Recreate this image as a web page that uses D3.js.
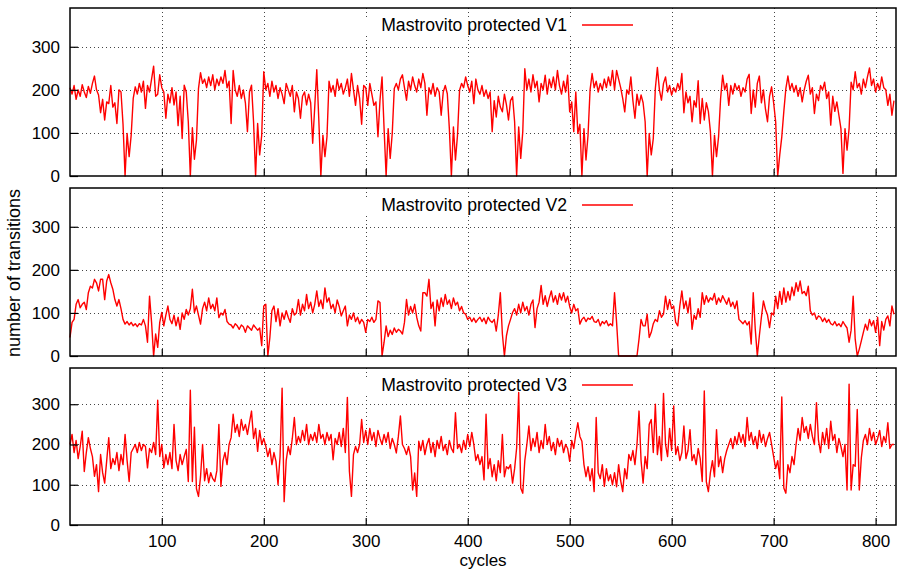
<!DOCTYPE html>
<html>
<head>
<meta charset="utf-8">
<script src="https://cdn.jsdelivr.net/npm/d3@7"></script>
<style>
  body { margin: 0; background: #fff; }
  text { font-family: "Liberation Sans", Arial, Helvetica, sans-serif; fill: #000; }
</style>
</head>
<body>
<svg id="chart" width="897" height="572"></svg>
<script>
// one value every 2 cycles, starting at cycle 10
const cycleStart = 10;
const cycleStep = 2;

const seriesNames = ["Mastrovito protected V1", "Mastrovito protected V2", "Mastrovito protected V3"];
const xTicks = [100, 200, 300, 400, 500, 600, 700, 800];
const yTicks = [0, 100, 200, 300];

const v1 = [
  205,190,210,178,200,185,212,195,182,208,192,215,232,200,188,147,178,130,172,168,210,160,170,122,200,
  195,120,0,99,45,95,180,207,190,215,195,220,157,210,195,225,255,185,190,235,205,195,134,190,170,
  205,165,195,117,185,87,211,195,126,0,112,39,83,203,240,215,225,205,230,210,235,200,225,210,230,
  215,245,205,220,122,245,200,185,210,180,200,170,103,195,211,126,0,122,49,95,242,200,215,185,220,
  195,210,180,205,190,168,215,200,185,210,149,195,180,134,185,195,165,190,170,76,160,247,130,0,95,
  45,91,220,195,210,185,225,200,215,190,205,225,185,238,200,164,210,180,120,210,205,164,215,190,164,
  172,91,176,230,110,0,110,41,99,203,215,200,225,235,205,176,220,200,230,210,195,225,205,238,215,
  141,205,190,215,185,205,195,141,195,210,191,110,0,114,37,95,199,215,205,230,210,195,220,168,225,
  200,190,210,185,200,180,195,103,175,137,185,160,149,190,165,130,175,184,126,0,114,41,103,249,200,
  225,195,235,205,220,172,215,200,234,190,225,205,230,200,245,210,190,220,195,234,149,172,103,195,99,
  120,0,110,37,95,200,238,205,220,195,215,200,225,205,230,210,245,200,245,225,205,180,149,200,190,
  230,175,134,190,164,188,170,126,0,99,49,87,203,252,200,176,215,230,195,210,188,205,195,215,200,
  238,147,195,170,185,126,175,160,221,122,180,130,170,150,103,0,95,45,91,180,234,200,215,164,210,
  190,215,200,210,185,205,195,225,236,145,200,160,215,232,170,200,155,126,185,207,170,126,0,49,91,
  150,203,232,200,215,195,210,185,205,172,200,220,234,190,205,145,190,175,210,200,218,180,195,118,185,
  150,172,141,110,6,110,60,110,218,200,242,205,215,190,225,205,230,251,210,225,195,215,200,230,205,
  200,164,190,141,175
];

const v2 = [
  43,78,85,120,131,112,120,125,108,147,162,158,178,170,151,178,178,131,174,189,170,155,131,116,131,
  110,85,74,80,72,78,70,75,68,75,72,85,70,32,139,78,0,51,20,78,101,70,95,116,85,
  75,95,70,90,62,100,85,108,95,110,155,101,116,95,74,110,125,105,135,110,120,105,135,89,100,
  95,108,80,74,72,65,75,70,62,72,68,55,70,65,60,72,66,60,65,24,116,120,0,43,105,
  116,80,110,70,100,85,105,90,78,110,95,100,131,95,120,105,143,110,125,100,120,151,115,130,110,
  158,125,135,110,120,100,130,115,93,105,116,70,95,85,100,80,90,75,85,78,55,85,80,90,78,
  85,128,124,0,32,70,45,60,50,65,55,62,58,51,78,131,95,115,100,120,90,70,58,147,147,
  139,178,110,125,70,130,105,135,115,143,120,130,110,135,118,125,105,115,100,97,85,90,80,88,78,
  85,90,80,88,75,90,82,78,85,58,95,147,51,0,47,70,85,101,110,95,120,100,125,105,115,
  95,120,130,66,110,125,164,120,140,115,135,151,125,140,120,145,130,147,125,139,115,100,120,105,110,
  74,85,90,80,88,85,92,80,78,85,70,80,75,82,70,75,70,147,78,0,0,0,0,0,0,
  0,0,0,0,39,85,70,70,97,43,55,75,85,80,105,90,97,139,108,131,110,116,78,70,116,
  151,110,128,100,135,62,95,85,110,90,147,120,140,125,135,130,145,120,135,125,140,130,120,135,115,
  125,110,128,85,80,75,82,72,80,28,147,62,0,47,90,128,108,95,66,100,95,139,110,150,120,
  158,125,150,130,160,140,170,150,174,145,150,140,162,105,95,100,85,93,90,80,88,78,85,75,72,
  80,70,75,68,80,72,65,32,60,139,39,0,16,35,55,74,60,85,70,82,55,90,24,80,60,
  85,93,70,116,97
];

const v3 = [
  200,225,180,210,165,195,233,133,180,217,190,170,121,150,83,175,130,104,160,217,140,165,150,180,135,
  175,150,225,160,108,180,190,200,180,205,185,200,195,142,190,180,205,175,310,170,200,142,175,150,180,
  140,250,160,135,175,150,170,188,108,335,108,243,90,71,120,200,110,140,105,130,115,108,135,250,96,
  160,180,150,200,217,275,230,250,220,262,235,250,225,255,283,215,240,183,235,200,215,196,170,190,150,
  180,158,100,170,340,58,160,195,175,215,267,200,220,205,235,210,250,200,225,210,230,205,250,215,225,
  200,230,210,225,162,215,200,230,195,240,180,317,133,71,175,195,180,200,262,205,235,200,240,210,230,
  195,235,215,200,225,205,230,190,215,200,179,220,271,200,190,175,195,170,87,129,71,208,185,210,175,
  200,215,180,205,170,210,190,220,185,200,175,210,190,180,279,190,200,180,210,188,225,195,230,200,160,
  175,150,170,112,275,140,165,120,150,110,160,130,225,120,145,140,150,104,140,192,329,92,79,160,200,
  246,185,215,195,230,180,210,190,250,200,220,185,205,175,215,195,210,180,200,190,158,210,190,225,254,
  220,208,150,120,145,110,140,83,267,130,115,150,96,140,110,125,100,130,95,150,110,83,140,115,175,
  160,185,150,200,283,160,104,170,140,250,262,180,300,175,220,160,327,200,170,240,185,296,175,195,160,
  180,246,165,185,237,160,175,150,190,165,108,333,108,83,130,160,120,237,145,170,130,165,185,200,215,
  190,220,200,230,205,225,195,267,210,230,200,220,190,235,205,225,195,215,230,200,170,140,160,115,318,
  92,79,150,130,170,150,200,240,210,267,230,245,215,250,220,200,304,210,180,230,200,240,190,258,210,
  225,180,215,195,170,200,87,350,87,150,146,287,87,167,210,225,200,240,210,230,200,215,235,195,220,
  205,254,190,200,200
];

const series = [v1, v2, v3];

// layout
const plotLeft = 70, plotRight = 896;
const panels = [
  { top: 8, bottom: 176 },
  { top: 188, bottom: 356 },
  { top: 368, bottom: 525 }
];

const svg = d3.select("#chart");

const x = d3.scaleLinear().domain([10, 820]).range([plotLeft, plotRight]);

const line = (y) => d3.line()
  .x((d, i) => x(cycleStart + i * cycleStep))
  .y(d => y(d));

panels.forEach((p, idx) => {
  const y = d3.scaleLinear().domain([0, 390]).range([p.bottom, p.top]);
  const g = svg.append("g");

  // grid (dotted)
  g.selectAll(".hgrid")
    .data(yTicks.filter(t => t > 0))
    .enter().append("line")
    .attr("x1", plotLeft).attr("x2", plotRight)
    .attr("y1", d => Math.round(y(d)) + 0.5).attr("y2", d => Math.round(y(d)) + 0.5)
    .attr("stroke", "#444").attr("stroke-width", 1)
    .attr("stroke-dasharray", "1,3");

  g.selectAll(".vgrid")
    .data(xTicks)
    .enter().append("line")
    .attr("x1", d => Math.round(x(d)) + 0.5).attr("x2", d => Math.round(x(d)) + 0.5)
    .attr("y1", p.top).attr("y2", p.bottom)
    .attr("stroke", "#444").attr("stroke-width", 1)
    .attr("stroke-dasharray", "1,3");

  // opaque key box
  g.append("rect")
    .attr("x", 362).attr("y", p.top + 9)
    .attr("width", 278).attr("height", 18)
    .attr("fill", "#fff");

  g.append("text")
    .attr("x", 567).attr("y", p.top + 23)
    .attr("text-anchor", "end")
    .style("font-size", "17.6px")
    .text(seriesNames[idx]);

  g.append("line")
    .attr("x1", 582).attr("x2", 633)
    .attr("y1", p.top + 17).attr("y2", p.top + 17)
    .attr("stroke", "#ff0000").attr("stroke-width", 1.4);

  // data line
  g.append("path")
    .datum(series[idx])
    .attr("d", line(y))
    .attr("fill", "none")
    .attr("stroke", "#ff0000")
    .attr("stroke-width", 1.4)
    .attr("stroke-linejoin", "round");

  // y axis with inward ticks
  const yAxis = d3.axisLeft(y).tickValues(yTicks).tickSizeInner(-8).tickSizeOuter(0).tickPadding(10);
  const ya = g.append("g").attr("transform", `translate(${plotLeft},0)`).call(yAxis);
  ya.select(".domain").remove();
  ya.selectAll("line").attr("stroke", "#000").attr("stroke-width", 1.2);
  ya.selectAll("text").style("font-size", "17px").attr("fill", "#000");

  // x axis ticks (labels only on bottom panel)
  const xAxis = d3.axisBottom(x).tickValues(xTicks).tickSizeInner(-7).tickSizeOuter(0).tickPadding(10);
  if (idx < 2) xAxis.tickFormat("");
  const xa = g.append("g").attr("transform", `translate(0,${p.bottom})`).call(xAxis);
  xa.select(".domain").remove();
  xa.selectAll("line").attr("stroke", "#000").attr("stroke-width", 1.2);
  xa.selectAll("text").style("font-size", "17px").attr("fill", "#000");

  // frame
  g.append("rect")
    .attr("x", plotLeft).attr("y", p.top)
    .attr("width", plotRight - plotLeft).attr("height", p.bottom - p.top)
    .attr("fill", "none").attr("stroke", "#000").attr("stroke-width", 1.5);
});

// axis titles
svg.append("text")
  .attr("transform", "translate(20,273) rotate(-90)")
  .attr("text-anchor", "middle")
  .style("font-size", "18px")
  .text("number of transitions");

svg.append("text")
  .attr("x", 483).attr("y", 566)
  .attr("text-anchor", "middle")
  .style("font-size", "17px")
  .text("cycles");
</script>
</body>
</html>
